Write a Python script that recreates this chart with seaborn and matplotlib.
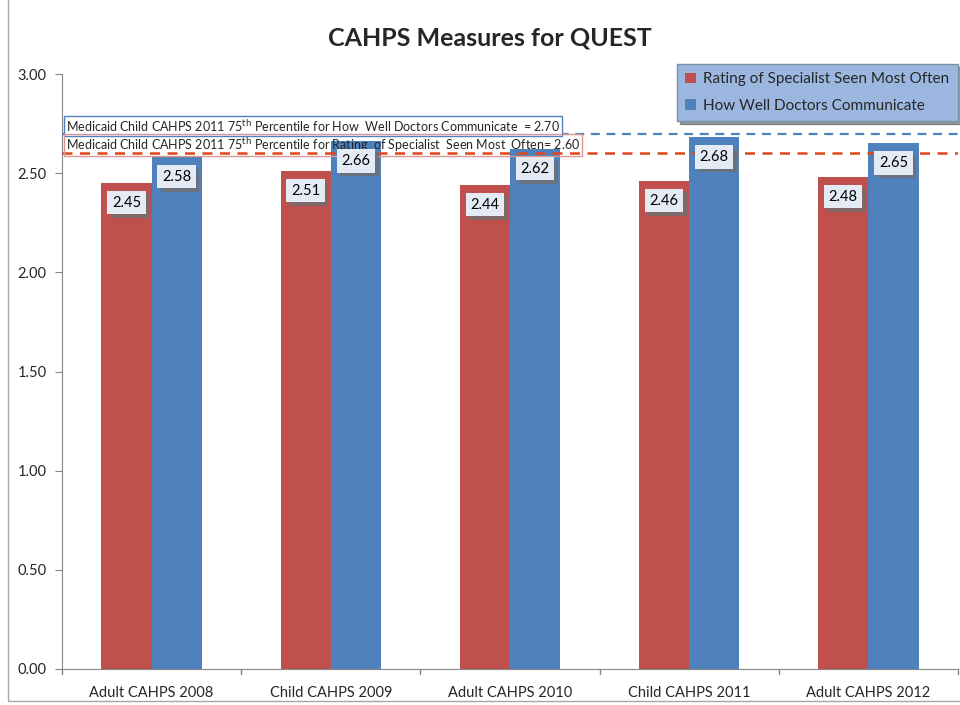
import pandas as pd
import seaborn as sns
import matplotlib.pyplot as plt
import matplotlib.patheffects as pe
from matplotlib.patches import Rectangle

categories = ["Adult CAHPS 2008", "Child CAHPS 2009", "Adult CAHPS 2010",
              "Child CAHPS 2011", "Adult CAHPS 2012"]
series_names = ["Rating of Specialist Seen Most Often", "How Well Doctors Communicate"]
specialist = [2.45, 2.51, 2.44, 2.46, 2.48]
doctors = [2.58, 2.66, 2.62, 2.68, 2.65]
benchmark_doctors = 2.70
benchmark_specialist = 2.60
yticks = [0.0, 0.5, 1.0, 1.5, 2.0, 2.5, 3.0]

red = "#c0504d"
blue = "#4f81bd"

df = pd.DataFrame({
    "category": categories * 2,
    "series": [series_names[0]] * 5 + [series_names[1]] * 5,
    "value": specialist + doctors,
})

sns.set_style("white")
plt.rcParams["font.family"] = ["Lato", "DejaVu Sans"]

fig = plt.figure(figsize=(9.6, 7.05), dpi=100)
ax = fig.add_axes([62 / 960, 1 - 669 / 705, 896 / 960, 595 / 705])

sns.barplot(data=df, x="category", y="value", hue="series",
            palette=[red, blue], width=0.56, saturation=1, ax=ax,
            edgecolor="none", zorder=2)

ax.set_ylim(0, 3.0)
ax.set_yticks(yticks)
ax.set_yticklabels([f"{t:.2f}" for t in yticks], fontsize=10.5)
ax.set_xlabel("")
ax.set_ylabel("")
ax.tick_params(axis="x", labelsize=10.5, length=0, pad=12)
ax.tick_params(axis="y", left=True, length=5, color="#868686", pad=6)
for s in ["top", "right"]:
    ax.spines[s].set_visible(False)
for s in ["left", "bottom"]:
    ax.spines[s].set_color("#868686")
# category separator ticks
for i in range(len(categories) + 1):
    ax.plot([i - 0.5, i - 0.5], [0, -0.025], color="#868686", lw=1,
            clip_on=False, transform=ax.transData)
ax.set_xlim(-0.5, len(categories) - 0.5)

# benchmark lines
ax.axhline(benchmark_doctors, color="#4f81bd", ls=(0, (4, 3)), lw=1.6, zorder=3)
ax.axhline(benchmark_specialist, color="#e0461a", ls=(0, (4, 3)), lw=1.8, zorder=3)

ax.text(0.004, benchmark_doctors - 0.002,
        "Medicaid Child CAHPS 2011 75$^{\\rm th}$ Percentile for How  Well Doctors Communicate  = 2.70",
        transform=ax.get_yaxis_transform(), fontsize=9, va="bottom", ha="left", zorder=5,
        bbox=dict(boxstyle="square,pad=0.15", facecolor="white", edgecolor="#4f81bd", lw=1))
ax.text(0.004, benchmark_specialist - 0.004,
        "Medicaid Child CAHPS 2011 75$^{\\rm th}$ Percentile for Rating  of Specialist  Seen Most  Often= 2.60",
        transform=ax.get_yaxis_transform(), fontsize=9, va="bottom", ha="left", zorder=5,
        bbox=dict(boxstyle="square,pad=0.15", facecolor="none", edgecolor="#d99694", lw=1))

# value labels
shadow = [pe.withSimplePatchShadow(offset=(2.5, -2.5), shadow_rgbFace="#6f6f6f", alpha=0.8)]
for container in ax.containers:
    for bar in container:
        h = bar.get_height()
        xc = bar.get_x() + bar.get_width() / 2
        t = ax.annotate(f"{h:.2f}", (xc, h), xytext=(0, -14), textcoords="offset points",
                        ha="center", va="center", fontsize=10.5, color="black", zorder=6,
                        bbox=dict(boxstyle="square,pad=0.32", facecolor="#e4ebf5",
                                  edgecolor="none"))
        t.get_bbox_patch().set_path_effects(shadow)

leg = ax.legend(loc="upper right", bbox_to_anchor=(958 / 960, 1 - 64 / 705),
                bbox_transform=fig.transFigure, borderaxespad=0, fontsize=11,
                frameon=True, fancybox=False, shadow=True, handlelength=0.7,
                handleheight=0.7, handletextpad=0.5, labelspacing=0.8,
                borderpad=0.55)
leg.get_frame().set_facecolor("#9bb7e0")
leg.get_frame().set_edgecolor("#7f8fa6")
leg.get_frame().set_alpha(1)

fig.text(490 / 960, 1 - 38 / 705, "CAHPS Measures for QUEST", ha="center", va="center",
         fontsize=18, fontweight="bold")

fig.patches.append(Rectangle((8 / 960, 4 / 705), 1.1, 1.1, transform=fig.transFigure,
                             fill=False, edgecolor="#a6a6a6", lw=1))

fig.savefig("out.png", dpi=100)
